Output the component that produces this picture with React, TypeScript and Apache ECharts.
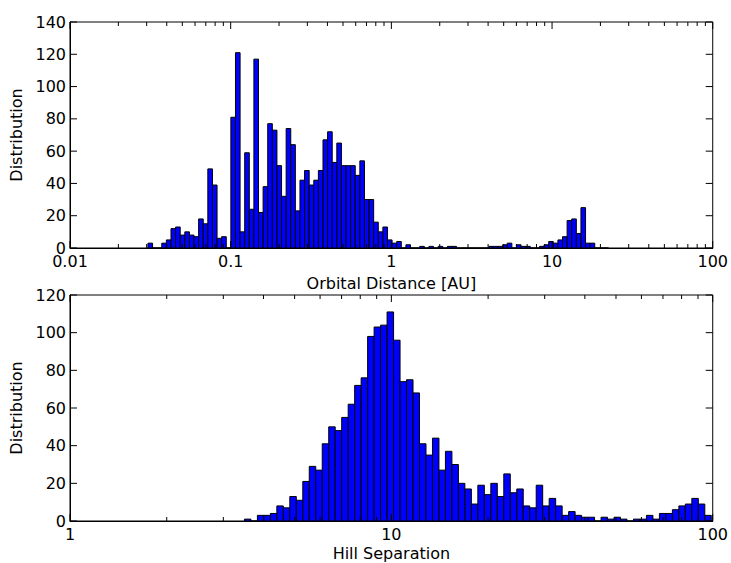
import React, { useEffect, useRef } from "react";
import * as echarts from "echarts";

// ---- Top panel: orbital distance histogram (log-spaced bins) ----
const orbitalFirstEdgeLog = -1.5148; // log10 of first bin edge [AU]
const orbitalBinLogWidth = 0.028666; // bin width in decades
const orbitalCounts = [
  3, 0, 0, 3, 5, 12, 13, 8, 10, 8,
  7, 18, 15, 49, 39, 6, 7, 0, 81, 121,
  10, 59, 24, 117, 22, 38, 77, 73, 51, 32,
  74, 64, 23, 42, 48, 39, 42, 48, 67, 72,
  53, 65, 51, 51, 51, 45, 54, 30, 30, 16,
  10, 13, 5, 3, 4, 0, 2, 0, 0, 1,
  0, 1, 0, 1, 0, 1, 1, 0, 0, 0,
  0, 0, 0, 0, 1, 1, 1, 2, 3, 0,
  2, 1, 1, 0, 0, 1, 2, 4, 3, 5,
  7, 17, 18, 9, 25, 3, 3, 0, 0, 0,
];
const orbitalXRange = [0.01, 100];
const orbitalYRange = [0, 140];
const orbitalXMajor = [0.01, 0.1, 1, 10, 100];
const orbitalYTicks = [0, 20, 40, 60, 80, 100, 120, 140];

// ---- Bottom panel: Hill separation histogram ----
const hillFirstEdgeLog = 0.54277;
const hillBinLogWidth = 0.020177;
const hillCounts = [
  1, 0, 3, 3, 4, 8, 7, 13, 11, 21,
  29, 27, 41, 50, 48, 55, 62, 72, 76, 98,
  103, 104, 111, 96, 74, 75, 68, 41, 35, 44,
  27, 37, 30, 20, 17, 9, 19, 14, 20, 13,
  25, 15, 17, 8, 7, 19, 8, 12, 8, 3,
  5, 3, 2, 2, 0, 2, 1, 2, 1, 0,
  1, 1, 3, 1, 4, 4, 6, 8, 9, 12,
  9, 3,
];
const hillXRange = [1, 100];
const hillYRange = [0, 120];
const hillXMajor = [1, 10, 100];
const hillYTicks = [0, 20, 40, 60, 80, 100, 120];

const minorMultipliers = [2, 3, 4, 5, 6, 7, 8, 9];

const FONT = "DejaVu Sans";

function histData(firstLog: number, w: number, counts: number[]) {
  return counts.map((c, i) => [
    Math.pow(10, firstLog + i * w),
    Math.pow(10, firstLog + (i + 1) * w),
    c,
  ]);
}

function minorTicks(xMajor: number[]) {
  const out: number[] = [];
  for (let i = 0; i < xMajor.length - 1; i++) {
    minorMultipliers.forEach((m) => out.push(xMajor[i] * m));
  }
  return out;
}

function barSeries(idx: number, data: number[][]) {
  return {
    type: "custom",
    xAxisIndex: idx,
    yAxisIndex: idx,
    clip: false,
    encode: { x: [0, 1], y: 2 },
    data,
    renderItem: (_p: any, api: any) => {
      const p0 = api.coord([api.value(0), 0]);
      const p1 = api.coord([api.value(1), api.value(2)]);
      return {
        type: "rect",
        shape: {
          x: p0[0],
          y: p1[1],
          width: p1[0] - p0[0],
          height: p0[1] - p1[1],
        },
        style: { fill: "#0000ff", stroke: "#000000", lineWidth: 1 },
      };
    },
  };
}

function tickSeries(
  idx: number,
  xr: number[],
  yr: number[],
  xMajor: number[],
  yTicks: number[]
) {
  const data: number[][] = [];
  xMajor.forEach((x) => data.push([x, yr[0], 0]));
  minorTicks(xMajor).forEach((x) => data.push([x, yr[0], 1]));
  yTicks.forEach((y) => data.push([xr[0], y, 2]));
  const ls = { stroke: "#000000", lineWidth: 1 };
  return {
    type: "custom",
    xAxisIndex: idx,
    yAxisIndex: idx,
    clip: false,
    silent: true,
    encode: { x: 0, y: 1 },
    data,
    z: 5,
    renderItem: (_p: any, api: any) => {
      const kind = api.value(2);
      if (kind < 2) {
        const x = api.value(0);
        const b = api.coord([x, yr[0]]);
        const t = api.coord([x, yr[1]]);
        const len = kind === 0 ? 7 : 4;
        return {
          type: "group",
          children: [
            { type: "line", shape: { x1: b[0], y1: b[1], x2: b[0], y2: b[1] - len }, style: ls },
            { type: "line", shape: { x1: t[0], y1: t[1], x2: t[0], y2: t[1] + len }, style: ls },
          ],
        };
      }
      const y = api.value(1);
      const l = api.coord([xr[0], y]);
      const r = api.coord([xr[1], y]);
      return {
        type: "group",
        children: [
          { type: "line", shape: { x1: l[0], y1: l[1], x2: l[0] + 7, y2: l[1] }, style: ls },
          { type: "line", shape: { x1: r[0], y1: r[1], x2: r[0] - 7, y2: r[1] }, style: ls },
        ],
      };
    },
  };
}

function xAxisCfg(idx: number, xr: number[], name: string, gap: number) {
  return {
    type: "log",
    logBase: 10,
    gridIndex: idx,
    min: xr[0],
    max: xr[1],
    position: "bottom",
    name,
    nameLocation: "middle",
    nameGap: gap,
    nameTextStyle: { fontFamily: FONT, fontSize: 16, color: "#000" },
    axisLine: { show: true, lineStyle: { color: "#000", width: 1 } },
    axisTick: { show: false },
    minorTick: { show: false },
    splitLine: { show: false },
    axisLabel: {
      fontFamily: FONT,
      fontSize: 16,
      color: "#000",
      margin: 5,
      showMinLabel: true,
      showMaxLabel: true,
      hideOverlap: false,
    },
  };
}

function yAxisCfg(idx: number, yr: number[]) {
  return {
    type: "value",
    gridIndex: idx,
    min: yr[0],
    max: yr[1],
    interval: 20,
    name: "Distribution",
    nameLocation: "middle",
    nameGap: 38,
    nameTextStyle: { fontFamily: FONT, fontSize: 16, color: "#000" },
    axisLine: { show: true, lineStyle: { color: "#000", width: 1 } },
    axisTick: { show: false },
    splitLine: { show: false },
    axisLabel: { fontFamily: FONT, fontSize: 16, color: "#000", margin: 4 },
  };
}

export default function App() {
  const ref = useRef<HTMLDivElement>(null);
  useEffect(() => {
    if (!ref.current) return;
    const chart = echarts.init(ref.current, undefined, { renderer: "svg" });
    chart.setOption({
      animation: false,
      backgroundColor: "#ffffff",
      grid: [
        { left: 70, width: 643, top: 22, height: 226, show: true, borderColor: "#000", borderWidth: 1, backgroundColor: "transparent" },
        { left: 70, width: 643, top: 295, height: 226, show: true, borderColor: "#000", borderWidth: 1, backgroundColor: "transparent" },
      ],
      xAxis: [
        xAxisCfg(0, orbitalXRange, "Orbital Distance [AU]", 27),
        xAxisCfg(1, hillXRange, "Hill Separation", 24),
      ],
      yAxis: [yAxisCfg(0, orbitalYRange), yAxisCfg(1, hillYRange)],
      series: [
        barSeries(0, histData(orbitalFirstEdgeLog, orbitalBinLogWidth, orbitalCounts)),
        barSeries(1, histData(hillFirstEdgeLog, hillBinLogWidth, hillCounts)),
        tickSeries(0, orbitalXRange, orbitalYRange, orbitalXMajor, orbitalYTicks),
        tickSeries(1, hillXRange, hillYRange, hillXMajor, hillYTicks),
      ],
    });
    return () => chart.dispose();
  }, []);
  return (
    <div
      ref={ref}
      style={{ position: "absolute", left: 0, top: 0, width: 731, height: 563, background: "#fff" }}
    />
  );
}
